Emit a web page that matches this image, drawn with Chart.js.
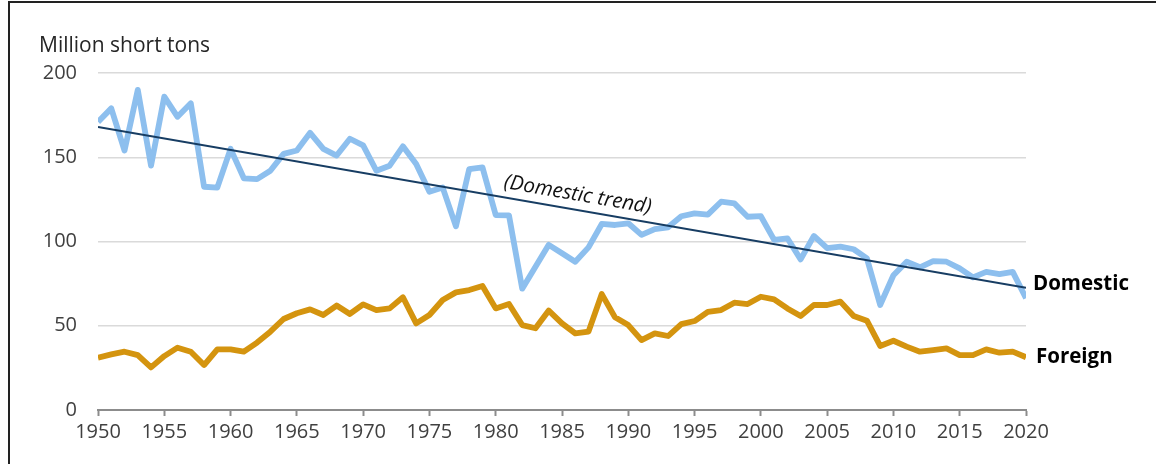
<!DOCTYPE html>
<html>
<head>
<meta charset="utf-8">
<script src="https://cdn.jsdelivr.net/npm/chart.js@4"></script>
<style>
  html, body { margin: 0; padding: 0; background: #fff; }
  #wrap { position: relative; width: 1156px; height: 464px; }
  #frame { position: absolute; left: 8px; top: 1px; right: -4px; bottom: -4px; border-left: 2px solid #222; border-top: 2px solid #222; }
  canvas { position: absolute; left: 0; top: 0; }
</style>
</head>
<body>
<div id="wrap">
  <div id="frame"></div>
  <canvas id="lineChart" width="1156" height="464"></canvas>
</div>
<script>
const years = [];
for (let y = 1950; y <= 2020; y++) years.push(y);

const domestic = [
  171, 179, 154, 190, 145, 186, 174, 182, 132.5, 132,
  155, 137.5, 137, 142, 152, 154, 164.5, 155, 151, 161,
  157, 142, 145, 156.5, 146, 129.5, 132, 109, 143, 144,
  115.7, 115.5, 72, 85, 98, 93, 88, 96.5, 110.4, 109.8,
  110.8, 103.9, 107.4, 108.4, 115, 116.7, 116, 123.6, 122.6, 114.7,
  115, 101, 101.9, 89.4, 103.3, 96, 97, 95.4, 90, 62.3,
  80, 88, 84.7, 88.4, 88, 84, 78.7, 82, 80.7, 82,
  66.3
];

const foreign = [
  31, 33, 34.6, 32.6, 25.3, 32, 37, 34.6, 26.7, 36,
  36, 34.6, 40, 46.5, 54, 57.4, 59.7, 56.4, 62, 57,
  62.7, 59.3, 60.3, 66.9, 51.4, 56.4, 65.3, 69.8, 71.2, 73.6,
  60.3, 62.9, 50.4, 48.5, 59, 51.4, 45.5, 46.5, 68.8, 55,
  50.4, 41.5, 45.5, 43.9, 51, 52.8, 58.3, 59.3, 63.7, 62.9,
  67.2, 65.7, 60.3, 55.8, 62.3, 62.3, 64.3, 55.8, 53, 38,
  41.1, 37.6, 34.6, 35.6, 36.6, 32.6, 32.6, 36, 34, 34.6,
  31.3
];

const trendYears = [1950, 2020];
const trendValues = [168, 72.6];

const yTicks = [0, 50, 100, 150, 200];

const fontFamily = "'Open Sans', 'Noto Sans', sans-serif";

const labelPlugin = {
  id: "labels",
  afterDraw(chart) {
    const { ctx, chartArea, scales } = chart;
    const x = scales.x;
    const y = scales.y;
    ctx.save();

    // unit title
    ctx.fillStyle = "#262626";
    ctx.font = "21px " + fontFamily;
    ctx.textAlign = "left";
    ctx.textBaseline = "middle";
    ctx.fillText("Million short tons", 39, 46);

    // series labels at right end
    ctx.fillStyle = "#000";
    ctx.font = "bold 20.5px " + fontFamily;
    ctx.fillText("Domestic", chartArea.right + 7, y.getPixelForValue(trendValues[1]) - 4);
    ctx.fillText("Foreign", chartArea.right + 10, y.getPixelForValue(foreign[foreign.length - 1]));

    // trend label along the line
    const x0 = x.getPixelForValue(trendYears[0]);
    const y0 = y.getPixelForValue(trendValues[0]);
    const x1 = x.getPixelForValue(trendYears[1]);
    const y1 = y.getPixelForValue(trendValues[1]);
    const ang = Math.atan2(y1 - y0, x1 - x0);
    const t = (1986.0 - trendYears[0]) / (trendYears[1] - trendYears[0]);
    const cx = x0 + (x1 - x0) * t;
    const cy = y0 + (y1 - y0) * t;
    ctx.translate(cx, cy);
    ctx.rotate(ang);
    ctx.font = "italic 20.5px " + fontFamily;
    ctx.textAlign = "center";
    ctx.textBaseline = "middle";
    ctx.fillStyle = "#111";
    ctx.fillText("(Domestic trend)", 0, -15);
    ctx.restore();
  },
};

const toPoints = (xs, ys) => xs.map((v, i) => ({ x: v, y: ys[i] }));

const ctx = document.getElementById("lineChart");

const lineChart = new Chart(ctx, {
  type: "line",
  data: {
    datasets: [
      {
        label: "Foreign",
        data: toPoints(years, foreign),
        borderColor: "#d4940f",
        borderWidth: 5.8,
        order: 3,
      },
      {
        label: "Domestic",
        data: toPoints(years, domestic),
        borderColor: "#8dbfee",
        borderWidth: 5.8,
        order: 2,
      },
      {
        label: "Domestic trend",
        data: toPoints(trendYears, trendValues),
        borderColor: "#173d63",
        borderWidth: 2,
        order: 1,
      },
    ],
  },
  options: {
    responsive: false,
    animation: false,
    layout: {
      padding: { left: 0, right: 130, top: 73, bottom: 0 },
    },
    elements: {
      point: { radius: 0, hitRadius: 0 },
      line: { tension: 0, borderJoinStyle: "round", borderCapStyle: "butt" },
    },
    plugins: {
      legend: { display: false },
      tooltip: { enabled: false },
    },
    scales: {
      x: {
        type: "linear",
        min: 1950,
        max: 2020,
        afterFit(scale) { scale.height = 54; },
        ticks: {
          stepSize: 5,
          callback: (v) => String(v),
          color: "#404040",
          font: { family: fontFamily, size: 20 },
          padding: 4,
          maxRotation: 0,
        },
        grid: {
          drawOnChartArea: false,
          drawTicks: true,
          tickLength: 6,
          tickWidth: 2,
          tickColor: "#8c8c8c",
        },
        border: { display: true, color: "#8c8c8c", width: 2 },
      },
      y: {
        min: 0,
        max: 200,
        afterFit(scale) { scale.width = 98; },
        afterBuildTicks(scale) { scale.ticks = yTicks.map((v) => ({ value: v })); },
        ticks: {
          color: "#404040",
          font: { family: fontFamily, size: 20 },
          padding: 21,
        },
        grid: {
          color: "#dadada",
          lineWidth: 1.5,
          drawTicks: false,
        },
        border: { display: false },
      },
    },
  },
  plugins: [labelPlugin],
});
</script>
</body>
</html>
